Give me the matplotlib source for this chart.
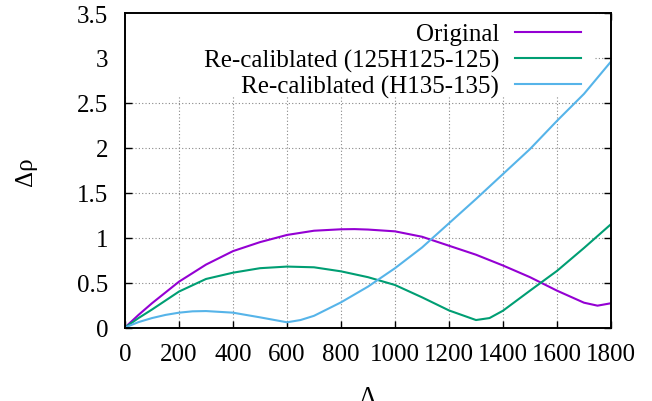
import matplotlib
matplotlib.use("Agg")
import matplotlib.pyplot as plt
from matplotlib.lines import Line2D
from matplotlib.patches import Rectangle

# Data
x_orig = [0, 50, 100, 150, 200, 300, 400, 500, 600, 700, 800, 850, 900, 1000, 1100, 1200,
          1300, 1400, 1500, 1600, 1700, 1750, 1800]
y_orig = [0.0, 0.14, 0.27, 0.39, 0.51, 0.70, 0.85, 0.95, 1.03, 1.077, 1.093, 1.095, 1.09,
          1.07, 1.01, 0.91, 0.81, 0.69, 0.56, 0.41, 0.276, 0.243, 0.27]

x_r125 = [0, 50, 100, 150, 200, 300, 400, 500, 600, 700, 800, 900, 1000, 1100, 1200, 1300,
          1350, 1400, 1500, 1600, 1700, 1800]
y_r125 = [0.0, 0.105, 0.20, 0.30, 0.40, 0.54, 0.61, 0.66, 0.678, 0.67, 0.625, 0.56, 0.473,
          0.336, 0.19, 0.083, 0.105, 0.187, 0.41, 0.63, 0.885, 1.15]

x_r135 = [0, 50, 100, 150, 200, 250, 300, 400, 500, 600, 650, 700, 800, 900, 1000, 1100,
          1200, 1300, 1400, 1500, 1600, 1700, 1800]
y_r135 = [0.0, 0.06, 0.105, 0.14, 0.165, 0.18, 0.183, 0.165, 0.113, 0.058, 0.083, 0.13,
          0.28, 0.455, 0.66, 0.89, 1.16, 1.43, 1.708, 1.986, 2.30, 2.60, 2.96]

labels = ["Original", "Re-caliblated (125H125-125)", "Re-caliblated (H135-135)"]
colors = ["#9400d3", "#009e73", "#56b4e9"]

x_ticks = [0, 200, 400, 600, 800, 1000, 1200, 1400, 1600, 1800]
y_ticks = [0, 0.5, 1, 1.5, 2, 2.5, 3, 3.5]
y_tick_labels = ["0", "0.5", "1", "1.5", "2", "2.5", "3", "3.5"]

plt.rcParams['font.family'] = ['Liberation Serif', 'DejaVu Serif']

FS = 18

fig = plt.figure(figsize=(6.52, 4.02), dpi=100)
ax = fig.add_axes([125/652, 1 - 328.5/402, 486/652, 314.5/402])

ax.set_xlim(0, 1800)
ax.set_ylim(0, 3.5)
ax.set_xticks(x_ticks)
ax.set_yticks(y_ticks)
ax.set_yticklabels(y_tick_labels)

ax.grid(True, color="#888888", linestyle=(0, (1, 2)), linewidth=0.8, zorder=0)
ax.set_axisbelow(True)

# opaque key box (covers grid like gnuplot's opaque key)
ax.add_patch(Rectangle((0, 2.58), 1737, 0.92, facecolor="white", edgecolor="none",
                       zorder=1.5))

series = [(x_orig, y_orig), (x_r125, y_r125), (x_r135, y_r135)]
for (xs, ys), c, lab in zip(series, colors, labels):
    ax.plot(xs, ys, color=c, linewidth=1.5, label=lab, zorder=3)

ax.tick_params(direction="in", length=5, width=1, top=True, right=True,
               labelsize=FS, colors="black")
ax.tick_params(axis="y", pad=12)
ax.tick_params(axis="x", pad=11)
for s in ax.spines.values():
    s.set_linewidth(1.4)
    s.set_zorder(4)

ax.set_ylabel("Δρ", fontsize=FS)
ax.yaxis.set_label_coords(-0.181, 0.5)
ax.set_xlabel("Λ", fontsize=FS)
ax.xaxis.set_label_coords(0.5, -0.186)

handles = [Line2D([], [], color=c, linewidth=1.5) for c in colors]
leg = ax.legend(handles, labels, loc="upper right", markerfirst=False,
                frameon=False, fontsize=FS, handlelength=66/25, handletextpad=16/25,
                labelspacing=0.13, borderpad=0, borderaxespad=0,
                bbox_to_anchor=(581/652, 1 - 24/402), bbox_transform=fig.transFigure)
leg.set_zorder(5)

fig.savefig("out.png", dpi=100)
